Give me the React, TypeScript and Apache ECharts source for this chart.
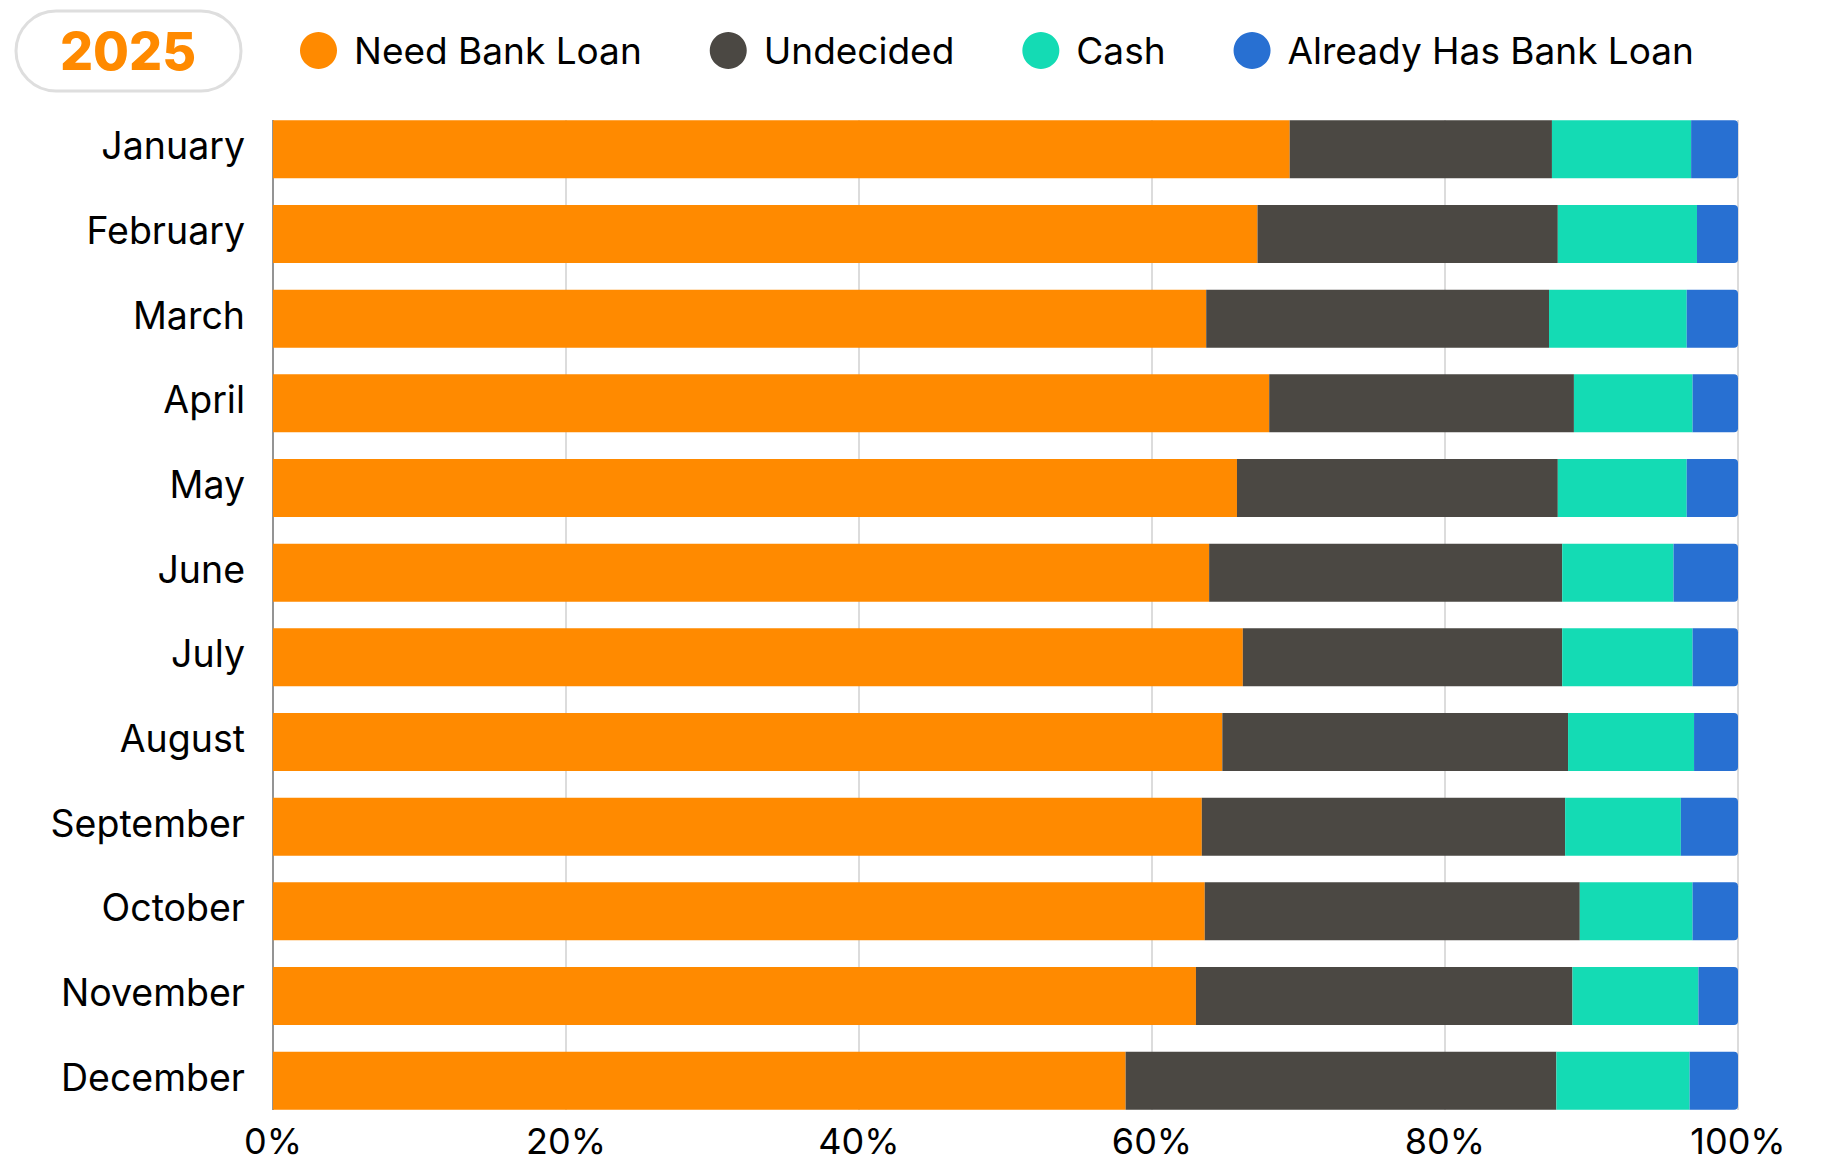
import React, { useEffect, useRef } from "react";
import * as echarts from "echarts";

const months = ["January","February","March","April","May","June","July","August","September","October","November","December"];
const needBankLoan = [69.4, 67.2, 63.7, 68.0, 65.8, 63.9, 66.2, 64.8, 63.4, 63.6, 63.0, 58.2];
const undecided = [17.9, 20.5, 23.4, 20.8, 21.9, 24.1, 21.8, 23.6, 24.8, 25.6, 25.7, 29.4];
const cash = [9.5, 9.5, 9.4, 8.1, 8.8, 7.6, 8.9, 8.6, 7.9, 7.7, 8.6, 9.1];
const alreadyHasLoan = [3.2, 2.8, 3.5, 3.1, 3.5, 4.4, 3.1, 3.0, 3.9, 3.1, 2.7, 3.3];
const xTicks = [0, 20, 40, 60, 80, 100];
const yearLabel = "2025";

const seriesNames = ["Need Bank Loan", "Undecided", "Cash", "Already Has Bank Loan"];
const seriesColors = ["#FF8A00", "#4B4843", "#14DBB4", "#2870D2"];

const FONT = "Inter, 'Noto Sans', sans-serif";

export default function App() {
  const ref = useRef<HTMLDivElement>(null);
  useEffect(() => {
    document.body.style.margin = "0";
    const chart = echarts.init(ref.current!, undefined, { renderer: "svg" });
    const data = [needBankLoan, undecided, cash, alreadyHasLoan];
    const gridColors = xTicks.map((_, i) => (i === 0 ? "#707070" : "#D0D0D0"));
    chart.setOption({
      animation: false,
      backgroundColor: "#ffffff",
      textStyle: { fontFamily: FONT },
      legend: {
        left: 300,
        top: 32,
        padding: 0,
        itemWidth: 37,
        itemHeight: 37,
        itemGap: 68,
        icon: "circle",
        data: seriesNames,
        textStyle: { fontSize: 37, color: "#000", fontFamily: FONT, padding: [0, 0, 0, 12] },
      },
      graphic: [
        {
          type: "rect",
          shape: { x: 16, y: 11, width: 225, height: 80, r: 40 },
          style: { fill: "#fff", stroke: "#DEDEDE", lineWidth: 3 },
        },
        {
          type: "text",
          x: 128,
          y: 51,
          style: {
            text: yearLabel,
            fill: "#FF8A00",
            font: `800 52px ${FONT}`,
            textAlign: "center",
            textVerticalAlign: "middle",
          },
        },
      ],
      grid: [
        { left: 273, right: 83, top: 107, bottom: 41, containLabel: false },
        { left: 273, right: 83, top: 120, bottom: 54, containLabel: false },
      ],
      xAxis: [
        {
          type: "value",
          gridIndex: 0,
          min: xTicks[0],
          max: xTicks[xTicks.length - 1],
          interval: 20,
          axisLine: { show: false },
          axisTick: { show: false },
          splitLine: { show: false },
          axisLabel: { show: false },
        },
        {
          type: "value",
          gridIndex: 1,
          min: xTicks[0],
          max: xTicks[xTicks.length - 1],
          interval: 20,
          axisLine: { show: false },
          axisTick: { show: false },
          splitLine: { show: true, lineStyle: { color: gridColors, width: 1.5 } },
          axisLabel: { formatter: "{value}%", fontSize: 36, color: "#000", margin: 13, fontFamily: FONT },
        },
      ],
      yAxis: [
        {
          type: "category",
          gridIndex: 0,
          data: months,
          inverse: true,
          axisLine: { show: false },
          axisTick: { show: false },
          axisLabel: {
            fontSize: 37.5,
            color: "#000",
            margin: 28,
            fontFamily: FONT,
            verticalAlign: "bottom",
            lineHeight: 7,
          },
        },
        {
          type: "value",
          gridIndex: 1,
          min: 0,
          max: 1,
          show: false,
          splitLine: { show: false },
        },
      ],
      series: data.map((d, i) => ({
        name: seriesNames[i],
        type: "bar",
        stack: "total",
        xAxisIndex: 0,
        yAxisIndex: 0,
        barWidth: 58,
        z: 5,
        data: d,
        itemStyle: {
          color: seriesColors[i],
          borderRadius: i === data.length - 1 ? [0, 4, 4, 0] : 0,
        },
      })),
    });
    return () => chart.dispose();
  }, []);
  return <div ref={ref} style={{ width: 1821, height: 1164 }} />;
}
